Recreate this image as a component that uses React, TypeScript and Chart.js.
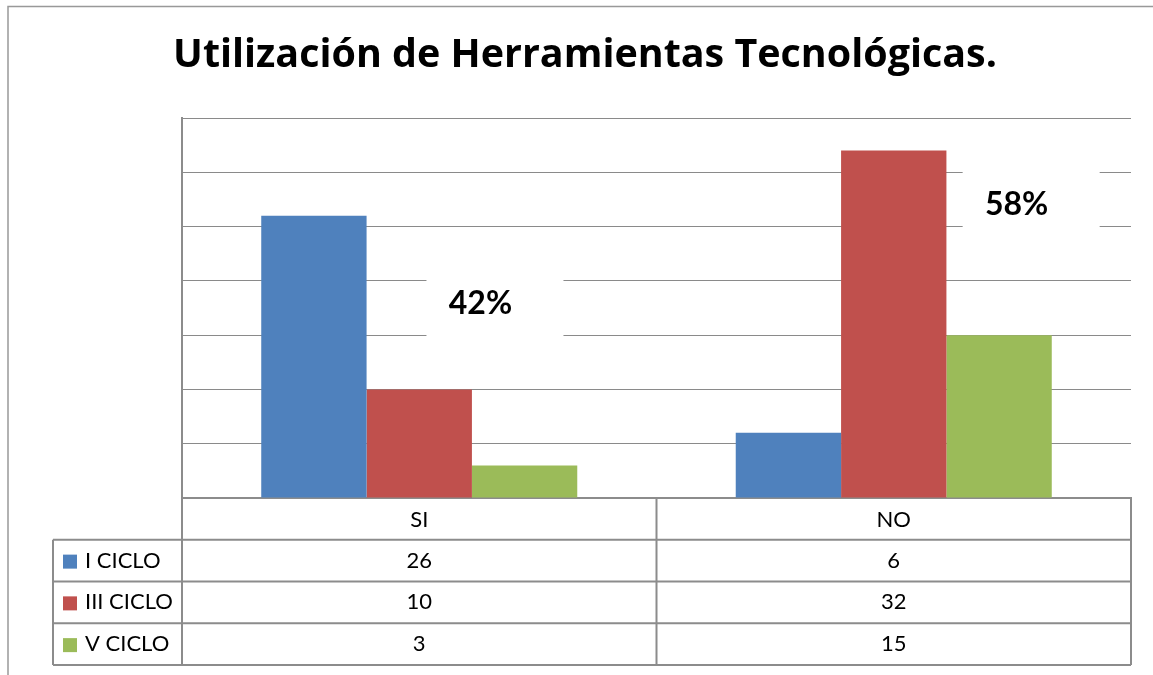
import React, { useEffect, useRef } from 'react';
import { Chart, registerables } from 'chart.js';

Chart.register(...registerables);

const TITLE = 'Utilización de Herramientas Tecnológicas.';
const categories = ['SI', 'NO'];
const seriesNames = ['I CICLO', 'III CICLO', 'V CICLO'];
const iCiclo = [26, 6];
const iiiCiclo = [10, 32];
const vCiclo = [3, 15];
const seriesValues = [iCiclo, iiiCiclo, vCiclo];
const seriesColors = ['#4F81BD', '#C0504D', '#9BBB59'];
const percentLabels = ['42%', '58%'];
const percentAnchorCat = [0.129, 1.259];
const percentAnchorValue = [18.05, 27.1];
const Y_MAX = 35;
const Y_STEP = 5;

const LINE = '#8c8c8c';
const GRID = '#8a8a8a';
const FONT = 'Lato, "Open Sans", sans-serif';
const TITLE_FONT = '"Open Sans", Lato, sans-serif';

const decorPlugin = {
  id: 'decor',
  beforeDatasetsDraw(chart: any) {
    const { ctx, scales } = chart;
    const x = scales.x;
    const y = scales.y;
    ctx.save();
    percentLabels.forEach((t, i) => {
      const cx = x.getPixelForValue(percentAnchorCat[i]);
      const cy = y.getPixelForValue(percentAnchorValue[i]);
      ctx.fillStyle = '#ffffff';
      ctx.fillRect(cx - 54, cy - 34, 137, 70);
      ctx.fillStyle = '#000000';
      ctx.font = `bold 32px ${FONT}`;
      ctx.textAlign = 'center';
      ctx.textBaseline = 'alphabetic';
      ctx.fillText(t, cx, cy + 11.5);
    });
    ctx.restore();
  },
  afterDraw(chart: any) {
    const { ctx, chartArea, scales } = chart;
    const x = scales.x;
    const left = chartArea.left;
    const right = chartArea.right;
    const top = chartArea.bottom;
    const rowH = 41.75;
    const bottom = top + rowH * 4;
    const legendLeft = 53;
    ctx.save();

    // outer frame
    ctx.strokeStyle = '#999999';
    ctx.lineWidth = 1.5;
    ctx.beginPath();
    ctx.moveTo(8, 675);
    ctx.lineTo(8, 6.5);
    ctx.lineTo(1153, 6.5);
    ctx.stroke();

    // title
    ctx.fillStyle = '#000000';
    let size = 36;
    ctx.font = `bold ${size}px ${TITLE_FONT}`;
    const w = ctx.measureText(TITLE).width;
    size = Math.min(40, size * 824 / w);
    ctx.font = `bold ${size}px ${TITLE_FONT}`;
    ctx.textAlign = 'center';
    ctx.textBaseline = 'alphabetic';
    ctx.fillText(TITLE, 585, 67);

    // table lines
    ctx.strokeStyle = LINE;
    ctx.lineWidth = 2;
    ctx.beginPath();
    for (let k = 1; k <= 4; k++) {
      const yy = top + rowH * k;
      ctx.moveTo(legendLeft, yy);
      ctx.lineTo(right, yy);
    }
    ctx.moveTo(left, top);
    ctx.lineTo(left, bottom);
    const mid = x.getPixelForValue(0.5);
    ctx.moveTo(mid, top);
    ctx.lineTo(mid, bottom);
    ctx.moveTo(right, top);
    ctx.lineTo(right, bottom);
    ctx.moveTo(legendLeft, top + rowH);
    ctx.lineTo(legendLeft, bottom);
    ctx.stroke();

    // texts
    ctx.font = `22px ${FONT}`;
    ctx.fillStyle = '#000000';
    ctx.textAlign = 'center';
    categories.forEach((c, i) => {
      ctx.fillText(c, x.getPixelForValue(i), top + rowH * 0.5 + 8);
    });
    seriesValues.forEach((vals, s) => {
      const rc = top + rowH * (s + 1) + rowH * 0.5;
      vals.forEach((v, i) => {
        ctx.textAlign = 'center';
        ctx.fillStyle = '#000000';
        ctx.fillText(String(v), x.getPixelForValue(i), rc + 7);
      });
      ctx.fillStyle = seriesColors[s];
      ctx.fillRect(63, rc - 6, 14, 14);
      ctx.fillStyle = '#000000';
      ctx.textAlign = 'left';
      ctx.fillText(seriesNames[s], 85, rc + 7);
    });
    ctx.restore();
  },
};

export default function App() {
  const ref = useRef<HTMLCanvasElement | null>(null);
  useEffect(() => {
    if (!ref.current) return;
    const chart = new Chart(ref.current, {
      type: 'bar',
      data: {
        labels: categories,
        datasets: seriesNames.map((n, i) => ({
          label: n,
          data: seriesValues[i],
          backgroundColor: seriesColors[i],
          borderWidth: 0,
          categoryPercentage: 0.666,
          barPercentage: 1,
        })),
      },
      options: {
        animation: false,
        responsive: true,
        maintainAspectRatio: false,
        devicePixelRatio: 1,
        layout: { padding: { left: 182, top: 118, right: 22, bottom: 177 } },
        plugins: {
          legend: { display: false },
          tooltip: { enabled: false },
          title: { display: false },
        },
        scales: {
          x: {
            display: true,
            ticks: { display: false },
            grid: { display: false, drawTicks: false },
            border: { display: true, color: LINE, width: 2 },
          },
          y: {
            min: 0,
            max: Y_MAX,
            ticks: { display: false, stepSize: Y_STEP },
            grid: { color: GRID, lineWidth: 1, drawTicks: false },
            border: { display: true, color: LINE, width: 2 },
          },
        },
      },
      plugins: [decorPlugin],
    });
    return () => chart.destroy();
  }, []);
  return (
    <div style={{ position: 'absolute', left: 0, top: 0, width: 1153, height: 675, background: '#fff' }}>
      <canvas ref={ref} />
    </div>
  );
}
